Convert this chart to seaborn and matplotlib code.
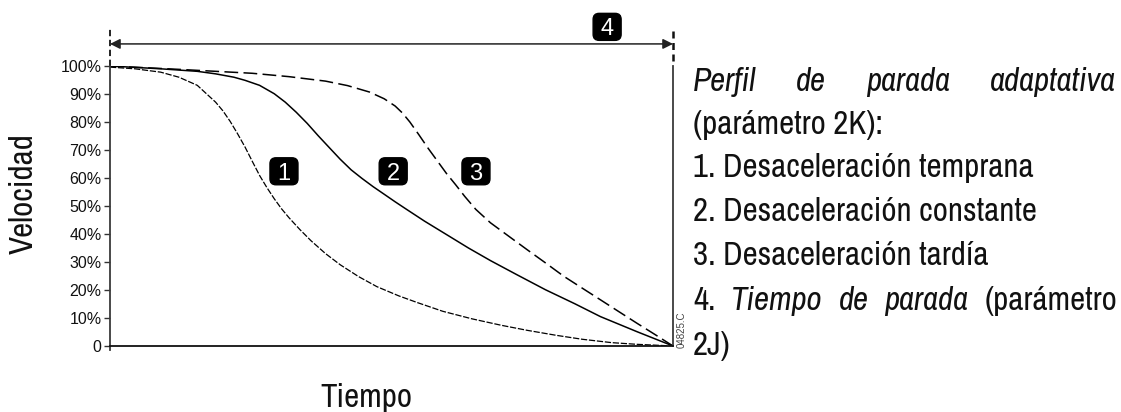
import matplotlib
matplotlib.use("Agg")
import matplotlib.pyplot as plt
import seaborn as sns
from matplotlib import font_manager as fm
from matplotlib.font_manager import FontProperties
from matplotlib.patches import FancyBboxPatch
from matplotlib.transforms import ScaledTranslation

# ---------------- data ----------------
tiempo_1 = [0, .0443, .09, .1224, .155, .1745, .1875, .2005, .2135, .2266, .24, .2526, .266, .2786,
            .2917, .3047, .318, .3372, .357, .3828, .409, .4414, .474, .513, .546, .591, .643,
            .695, .741, .793, .839, .891, .936, 1]
vel_1 = [99.6, 99.0, 97.8, 96.0, 93.1, 89.5, 87.1, 84.0, 80.2, 75.8, 71.0, 66.0, 60.8, 56.6,
         52.6, 49.0, 45.8, 41.6, 37.6, 33.0, 29.0, 24.8, 21.2, 17.9, 15.5, 12.4, 9.7,
         7.4, 5.6, 3.8, 2.4, 1.2, 0.6, 0]

tiempo_2 = [0, .0898, .155, .1875, .22, .2396, .2656, .2917, .3112, .3307, .3503, .3698, .3893,
            .4089, .4284, .4479, .4674, .487, .5065, .526, .5586, .5977, .6367, .6758, .7214,
            .7734, .8255, .8711, .9362, 1]
vel_2 = [100, 99.0, 98.1, 97.2, 96.0, 94.9, 93.1, 90.1, 87.1, 83.5, 79.5, 75.1, 70.9,
         66.7, 62.9, 59.8, 56.9, 54.2, 51.5, 48.9, 44.6, 39.8, 35.0, 30.5, 25.6,
         20.1, 15.1, 10.5, 5.1, 0]

tiempo_3 = [0, .1224, .2526, .3177, .3828, .4219, .4609, .487, .5065, .5195, .5326, .5488, .5651,
            .5814, .5977, .6139, .6302, .6497, .6758, .7083, .7409, .7734, .806, .8385, .8711,
            .9036, .9362, .9688, 1]
vel_3 = [100, 98.8, 97.4, 96.2, 94.6, 93.0, 90.7, 88.3, 85.7, 83.2, 80.0, 75.4, 70.6,
         66.1, 61.6, 57.6, 53.4, 48.8, 44.0, 39.2, 34.4, 29.7, 24.9, 20.7, 16.5,
         12.3, 8.1, 4.0, 0]

ytick_vals = [0, 10, 20, 30, 40, 50, 60, 70, 80, 90, 100]
ytick_labels = ["0", "10%", "20%", "30%", "40%", "50%", "60%", "70%", "80%", "90%", "100%"]

badge_labels = ["1", "2", "3"]
badge_x = [0.309, 0.503, 0.650]
badge_y = [62.4, 62.4, 62.4]

# ---------------- fonts ----------------
sns.set_theme(style="white")
files = {f.fname.split("/")[-1]: f.fname for f in fm.fontManager.ttflist}
names = {f.name for f in fm.fontManager.ttflist}
regular = "Liberation Sans" if "Liberation Sans" in names else ("Arimo" if "Arimo" in names else "DejaVu Sans")
plt.rcParams["font.family"] = [regular, "DejaVu Sans"]

def pick(cands):
    for c in cands:
        if c in files:
            return files[c]
    return None

narrow_reg = pick(["LiberationSansNarrow-Regular.ttf", "ArchivoNarrow[wght].ttf",
                   "ArchivoNarrow-Regular.ttf", "DejaVuSansCondensed.ttf"])
narrow_it = pick(["LiberationSansNarrow-Italic.ttf", "ArchivoNarrow-Italic[wght].ttf",
                  "ArchivoNarrow-Italic.ttf", "DejaVuSansCondensed-Oblique.ttf"])

def fp(size, italic=False):
    f = narrow_it if italic else narrow_reg
    if f is None:
        return FontProperties(family=regular, size=size, style="italic" if italic else "normal")
    return FontProperties(fname=f, size=size)

W, H = 1121, 412
fig = plt.figure(figsize=(W / 100, H / 100), dpi=100)
fig.patch.set_facecolor("white")
ax = fig.add_axes([110 / W, 66 / H, 563 / W, 280 / H])
ax.set_facecolor("white")

sns.lineplot(x=tiempo_1, y=vel_1, ax=ax, color="black", lw=0.9,
             linestyle=(0, (5, 1.4)), estimator=None, sort=False)
sns.lineplot(x=tiempo_2, y=vel_2, ax=ax, color="black", lw=1.1,
             estimator=None, sort=False)
sns.lineplot(x=tiempo_3, y=vel_3, ax=ax, color="black", lw=1.1,
             linestyle=(0, (9, 3.5)), estimator=None, sort=False)

ax.set_xlim(0, 1)
ax.set_ylim(0, 100)
ax.set_xticks([])
ax.set_yticks(ytick_vals)
ax.set_yticklabels(ytick_labels, fontfamily=regular, fontsize=11.5, color="#111111")
ax.tick_params(axis="y", direction="out", length=4, width=1, pad=2, color="#333333", left=True)
ax.set_xlabel("")
ax.set_ylabel("")

for s in ["left", "bottom", "right"]:
    ax.spines[s].set_visible(True)
    ax.spines[s].set_color("#3a3a3a")
    ax.spines[s].set_linewidth(1.3)
ax.spines["top"].set_visible(False)
ax.spines["left"].set_bounds(-1.5, 100)
ax.spines["bottom"].set_color("#111111")

# top double arrow (4)
yA = (346 - 45) / 279
ax.annotate("", xy=(1, yA), xytext=(0, yA), xycoords="axes fraction",
            arrowprops=dict(arrowstyle="<|-|>,head_length=0.6,head_width=0.3",
                            color="#222222", lw=1.1, shrinkA=0, shrinkB=0,
                            mutation_scale=10), annotation_clip=False)
ax.plot([0, 0], [1.0, (346 - 30) / 279], transform=ax.transAxes, clip_on=False,
        color="#111111", lw=1.3, linestyle=(0, (3.5, 2)))
ax.plot([1, 1], [(346 - 62) / 279, (346 - 30) / 279], transform=ax.transAxes, clip_on=False,
        color="#111111", lw=1.8, linestyle=(0, (2.8, 1.8)))

# badges
def badge(x, y, label, transform):
    w, h, r = 0.28, 0.27, 0.06
    off = fig.dpi_scale_trans + ScaledTranslation(x, y, transform)
    p = FancyBboxPatch((-w / 2, -h / 2), w, h,
                       boxstyle=f"round,pad=0,rounding_size={r}",
                       transform=off, facecolor="black", edgecolor="black",
                       clip_on=False, zorder=5)
    ax.add_artist(p)
    ax.text(x, y, label, transform=transform, color="white", fontsize=17,
            fontfamily=regular, ha="center", va="center_baseline", zorder=6, clip_on=False)

for lab, bx, by in zip(badge_labels, badge_x, badge_y):
    badge(bx, by, lab, ax.transData)
badge(0.883, (346 - 28) / 279, "4", ax.transAxes)

# ---------------- calibrate narrow font size ----------------
fig.canvas.draw()
renderer = fig.canvas.get_renderer()

def width_of(text, prop):
    t = fig.text(0, 0, text, fontproperties=prop)
    wdt = t.get_window_extent(renderer).width
    t.remove()
    return wdt

ref_w = width_of("1. Desaceleración temprana", fp(20))
FS = 20 * 340 / ref_w

# axis labels
fig.text(33 / W, 1 - 194 / H, "Velocidad", rotation=90, rotation_mode="anchor",
         ha="center", va="baseline", fontproperties=fp(FS), color="#111111")
fig.text(366 / W, 1 - 407 / H, "Tiempo", ha="center", va="baseline",
         fontproperties=fp(FS), color="#111111")

# drawing code
fig.text(682 / W, 1 - 330 / H, "04825.C", rotation=90, ha="center", va="center",
         fontsize=7, fontfamily=regular, color="#444444")

def justified(words, italics, x0, x1, yb):
    widths = [width_of(w, fp(FS, it)) for w, it in zip(words, italics)]
    gap = (x1 - x0 - sum(widths)) / (len(words) - 1)
    x = x0
    for w, it, wd in zip(words, italics, widths):
        fig.text(x / W, 1 - yb / H, w, fontproperties=fp(FS, it),
                 ha="left", va="baseline", color="#111111")
        x += wd + gap

def plain(text, yb, x0=693):
    fig.text(x0 / W, 1 - yb / H, text, fontproperties=fp(FS),
             ha="left", va="baseline", color="#111111")

justified(["Perfil", "de", "parada", "adaptativa"], [True] * 4, 693, 1116, 91)
plain("(parámetro 2K):", 134)
plain("1. Desaceleración temprana", 177)
plain("2. Desaceleración constante", 221)
plain("3. Desaceleración tardía", 265)
justified(["4.", "Tiempo", "de", "parada", "(parámetro"],
          [False, True, True, True, False], 693, 1117, 310)
plain("2J)", 355)

fig.savefig("out.png", dpi=100, facecolor="white")
